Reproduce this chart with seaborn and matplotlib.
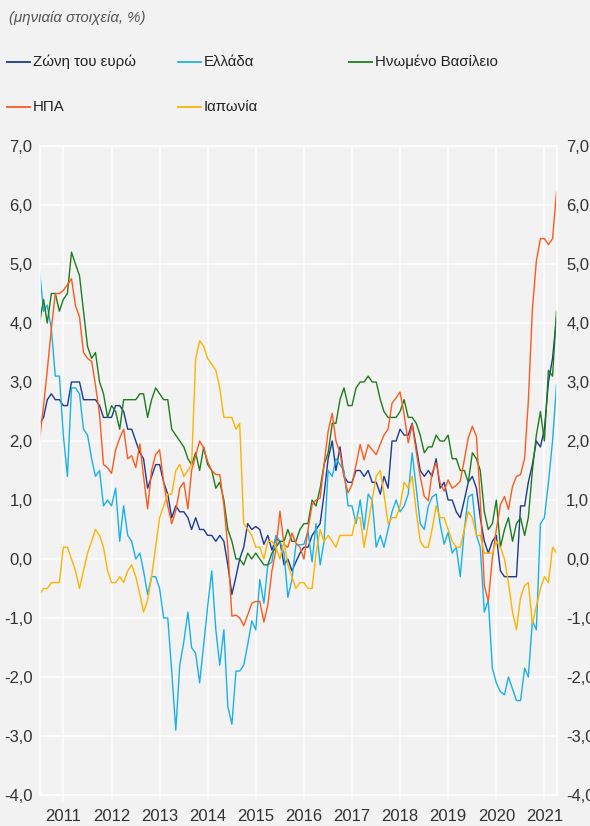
import numpy as np
import pandas as pd
import matplotlib
matplotlib.use("Agg")
import matplotlib.pyplot as plt
from matplotlib.lines import Line2D
from matplotlib.ticker import FuncFormatter
import seaborn as sns

# monthly data, Jan 2011 - Oct 2021
dates = pd.date_range("2011-01-01", periods=130, freq="MS")

ea = [2.3, 2.4, 2.7, 2.8, 2.7, 2.7, 2.6, 2.6, 3.0, 3.0, 3.0, 2.7,
      2.7, 2.7, 2.7, 2.6, 2.4, 2.4, 2.4, 2.6, 2.6, 2.5, 2.2, 2.2,
      2.0, 1.8, 1.7, 1.2, 1.4, 1.6, 1.6, 1.3, 1.1, 0.7, 0.9, 0.8,
      0.8, 0.7, 0.5, 0.7, 0.5, 0.5, 0.4, 0.4, 0.3, 0.4, 0.3, -0.1,
      -0.6, -0.3, 0.0, 0.2, 0.6, 0.5, 0.55, 0.5, 0.25, 0.4, 0.15, 0.35,
      0.3, -0.1, 0.0, -0.2, -0.05, 0.1, 0.2, 0.2, 0.4, 0.5, 0.6, 1.1,
      1.7, 2.0, 1.5, 1.9, 1.4, 1.3, 1.3, 1.5, 1.5, 1.4, 1.5, 1.3,
      1.3, 1.1, 1.4, 1.2, 2.0, 2.0, 2.2, 2.1, 2.1, 2.3, 1.9, 1.5,
      1.4, 1.5, 1.4, 1.7, 1.2, 1.3, 1.0, 1.0, 0.8, 0.7, 1.0, 1.3,
      1.4, 1.2, 0.7, 0.3, 0.1, 0.3, 0.4, -0.2, -0.3, -0.3, -0.3, -0.3,
      0.9, 0.9, 1.3, 1.6, 2.0, 1.9, 2.2, 3.0, 3.4, 4.1]

gr = [4.9, 4.2, 4.3, 3.9, 3.1, 3.1, 2.1, 1.4, 2.9, 2.9, 2.8, 2.2,
      2.1, 1.7, 1.4, 1.5, 0.9, 1.0, 0.9, 1.2, 0.3, 0.9, 0.4, 0.3,
      0.0, 0.1, -0.2, -0.6, -0.3, -0.3, -0.5, -1.0, -1.0, -1.9, -2.9, -1.8,
      -1.4, -0.9, -1.5, -1.6, -2.1, -1.45, -0.8, -0.2, -1.2, -1.8, -1.2, -2.5,
      -2.8, -1.9, -1.9, -1.8, -1.45, -1.05, -1.2, -0.35, -0.75, -0.1, -0.05, 0.4,
      0.3, 0.1, -0.65, -0.35, 0.24, 0.24, 0.25, 0.47, -0.05, 0.6, -0.1, 0.3,
      1.5, 1.4, 1.7, 1.6, 1.5, 0.9, 0.9, 0.6, 1.0, 0.5, 1.1, 1.0,
      0.2, 0.4, 0.2, 0.5, 0.8, 1.0, 0.8, 0.9, 1.1, 1.8, 1.2, 0.6,
      0.5, 0.9, 1.05, 1.1, 0.6, 0.25, 0.45, 0.1, 0.2, -0.3, 0.5, 1.05,
      1.1, 0.4, 0.2, -0.9, -0.7, -1.85, -2.1, -2.25, -2.3, -2.0, -2.2, -2.4,
      -2.4, -1.85, -2.0, -1.05, -1.2, 0.6, 0.7, 1.3, 2.0, 2.95]

uk = [4.0, 4.4, 4.0, 4.5, 4.5, 4.2, 4.4, 4.5, 5.2, 5.0, 4.8, 4.2,
      3.6, 3.4, 3.5, 3.0, 2.8, 2.4, 2.6, 2.5, 2.2, 2.7, 2.7, 2.7,
      2.7, 2.8, 2.8, 2.4, 2.7, 2.9, 2.8, 2.7, 2.7, 2.2, 2.1, 2.0,
      1.9, 1.7, 1.6, 1.8, 1.5, 1.9, 1.6, 1.5, 1.2, 1.3, 1.0, 0.5,
      0.3, 0.0, 0.0, -0.1, 0.1, 0.0, 0.1, 0.0, -0.1, -0.1, 0.1, 0.2,
      0.3, 0.3, 0.5, 0.3, 0.3, 0.5, 0.6, 0.6, 1.0, 0.9, 1.2, 1.6,
      1.8, 2.3, 2.3, 2.7, 2.9, 2.6, 2.6, 2.9, 3.0, 3.0, 3.1, 3.0,
      3.0, 2.7, 2.5, 2.4, 2.4, 2.4, 2.5, 2.7, 2.4, 2.4, 2.3, 2.1,
      1.8, 1.9, 1.9, 2.1, 2.0, 2.0, 2.1, 1.7, 1.7, 1.5, 1.5, 1.3,
      1.8, 1.7, 1.5, 0.8, 0.5, 0.6, 1.0, 0.2, 0.5, 0.7, 0.3, 0.6,
      0.7, 0.4, 0.7, 1.5, 2.1, 2.5, 2.0, 3.2, 3.1, 4.2]

us = [2.0, 2.6, 3.2, 3.9, 4.5, 4.5, 4.55, 4.65, 4.75, 4.3, 4.1, 3.5,
      3.4, 3.35, 2.95, 2.45, 1.6, 1.55, 1.45, 1.85, 2.05, 2.2, 1.7, 1.75,
      1.55, 1.95, 1.4, 0.85, 1.5, 1.77, 1.85, 1.3, 0.9, 0.6, 0.82, 1.2,
      1.3, 0.85, 1.5, 1.75, 2.0, 1.88, 1.65, 1.5, 1.43, 1.43, 0.92, 0.2,
      -0.97, -0.95, -1.0, -1.13, -0.95, -0.75, -0.72, -0.72, -1.07, -0.78, -0.2, 0.15,
      0.81, 0.24, 0.2, 0.44, 0.27, 0.2, 0.0, 0.5, 0.92, 1.0, 1.03, 1.6,
      2.17, 2.47, 2.0, 1.8, 1.4, 1.12, 1.26, 1.6, 1.94, 1.68, 1.94, 1.85,
      1.77, 1.95, 2.1, 2.2, 2.64, 2.73, 2.83, 2.45, 1.97, 2.28, 1.82, 1.4,
      1.06, 0.99, 1.46, 1.63, 1.29, 1.15, 1.34, 1.2, 1.25, 1.32, 1.68, 2.05,
      2.25, 2.08, 1.0, -0.45, -0.72, 0.02, 0.5, 0.92, 1.06, 0.84, 1.23, 1.4,
      1.43, 1.71, 2.67, 4.23, 5.05, 5.43, 5.43, 5.33, 5.43, 6.22]

jp = [-0.6, -0.5, -0.5, -0.4, -0.4, -0.4, 0.2, 0.2, 0.0, -0.2, -0.5, -0.2,
      0.1, 0.3, 0.5, 0.4, 0.2, -0.2, -0.4, -0.4, -0.3, -0.4, -0.2, -0.1,
      -0.3, -0.6, -0.9, -0.7, -0.3, 0.2, 0.7, 0.9, 1.1, 1.1, 1.5, 1.6,
      1.4, 1.5, 1.6, 3.4, 3.7, 3.6, 3.4, 3.3, 3.2, 2.9, 2.4, 2.4,
      2.4, 2.2, 2.3, 0.6, 0.5, 0.4, 0.2, 0.2, 0.0, 0.3, 0.3, 0.2,
      0.0, 0.3, -0.1, -0.3, -0.5, -0.4, -0.4, -0.5, -0.5, 0.1, 0.5, 0.3,
      0.4, 0.3, 0.2, 0.4, 0.4, 0.4, 0.4, 0.7, 0.7, 0.2, 0.6, 1.0,
      1.4, 1.5, 1.1, 0.6, 0.7, 0.7, 0.9, 1.3, 1.2, 1.4, 0.8, 0.3,
      0.2, 0.2, 0.5, 0.9, 0.7, 0.7, 0.5, 0.3, 0.2, 0.2, 0.5, 0.8,
      0.7, 0.4, 0.4, 0.1, 0.1, 0.1, 0.3, 0.2, 0.0, -0.4, -0.9, -1.2,
      -0.65, -0.45, -0.4, -1.1, -0.8, -0.5, -0.3, -0.4, 0.2, 0.1]

names = ["Ζώνη του ευρώ", "Ελλάδα", "Ηνωμένο Βασίλειο", "ΗΠΑ", "Ιαπωνία"]
colors = ["#1b3a94", "#19b1ea", "#1d7d1d", "#ff5a1a", "#ffb300"]
years = list(range(2011, 2022))

df = pd.concat([pd.DataFrame({"date": dates, "value": v, "series": n})
                for n, v in zip(names, [ea, gr, uk, us, jp])])

plt.rcParams["font.family"] = ["Liberation Sans", "DejaVu Sans"]
bg = "#f2f2f2"
txt = "#333333"
W, H = 590, 826
fig = plt.figure(figsize=(W / 100, H / 100), dpi=100, facecolor=bg)
ax = fig.add_axes([39.5 / W, 1 - 795 / H, (556.5 - 39.5) / W, (795 - 146) / H])
ax.set_facecolor(bg)

sns.lineplot(data=df, x="date", y="value", hue="series", hue_order=names,
             palette=dict(zip(names, colors)), linewidth=1.0, legend=False, ax=ax)

ax.set_xlim(dates[0], dates[-1])
ax.set_ylim(-4, 7)
yt = np.arange(-4, 7.1, 1)
fmt = FuncFormatter(lambda v, p: f"{v:.1f}".replace(".", ","))
ax.set_yticks(yt)
ax.yaxis.set_major_formatter(fmt)
ax.set_xticks([pd.Timestamp(f"{y}-07-01") for y in years])
ax.set_xticklabels([str(y) for y in years])
ax.set_xlabel("")
ax.set_ylabel("")

ax.grid(True, color="white", linewidth=1.1)
ax.set_axisbelow(True)
for s in ax.spines.values():
    s.set_color("white")
    s.set_linewidth(1.1)
ax.tick_params(axis="x", color="white", labelcolor=txt, length=4, width=1.1,
               labelsize=12, pad=6)
ax.tick_params(axis="y", length=0, labelsize=12, labelcolor=txt, pad=5)

# same scale repeated on the right
ax2 = ax.twinx()
ax2.set_ylim(ax.get_ylim())
ax2.set_yticks(yt)
ax2.yaxis.set_major_formatter(fmt)
ax2.tick_params(axis="y", length=0, labelsize=12, labelcolor=txt, pad=7)
for s in ax2.spines.values():
    s.set_visible(False)

# header and legend
fig.text(9 / W, 1 - 18 / H, "(μηνιαία στοιχεία, %)", fontsize=10.8, style="italic",
         color="#555555", va="center", ha="left")
legend_pos = [(7, 62), (178, 62), (349, 62), (7, 107), (178, 107)]
for (px, py), n, c in zip(legend_pos, names, colors):
    fig.add_artist(Line2D([px / W, (px + 23) / W], [1 - py / H, 1 - py / H],
                          transform=fig.transFigure, color=c, linewidth=1.3))
    fig.text((px + 26) / W, 1 - py / H, n, fontsize=10.8, color="#222222",
             va="center", ha="left")

fig.savefig("out.png", dpi=100, facecolor=bg)
